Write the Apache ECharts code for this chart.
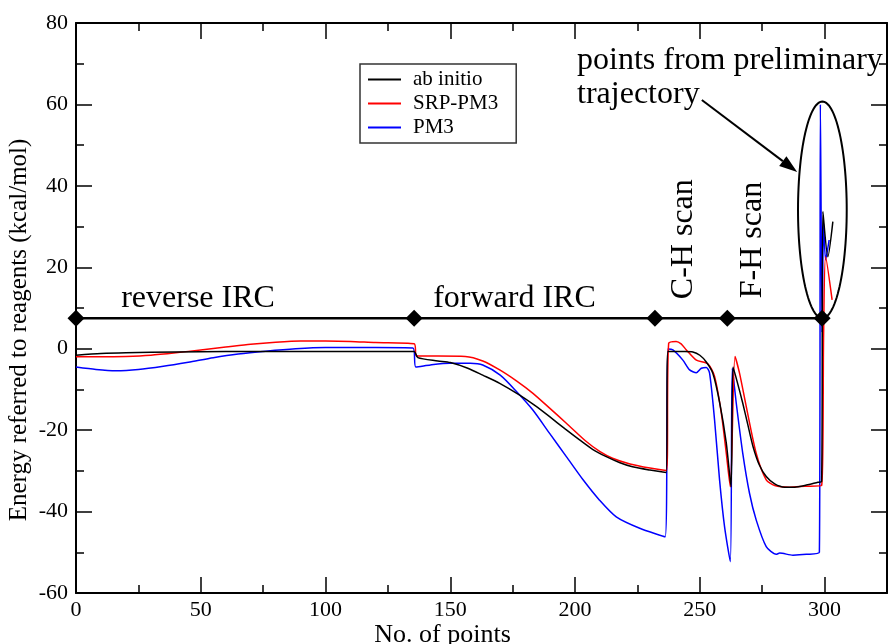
<!DOCTYPE html>
<html><head><meta charset="utf-8">
<script src="https://cdn.jsdelivr.net/npm/echarts@6/dist/echarts.min.js"></script>
<style>html,body{margin:0;padding:0;background:#fff}#c{width:888px;height:644px}</style>
</head><body><div id="c"></div>
<script>
const FONT = '"Liberation Serif", "DejaVu Serif", serif';
const seriesNames = ['ab initio', 'SRP-PM3', 'PM3'];
const seriesColors = ['#000000', '#ff0000', '#0000ff'];

const abInitio = [[0,-1.6],[10,-1.2],[20,-1.0],[40,-0.8],[60,-0.7],[80,-0.7],[100,-0.7],[120,-0.7],[135.5,-0.7],[137,-2.2],[145,-3.0],[150,-3.4],[157,-4.8],[163,-6.5],[169.8,-8.5],[177.8,-11.4],[184,-14.0],[189.8,-16.7],[196,-19.7],[201.8,-22.4],[207,-24.7],[212.5,-26.5],[218,-28.0],[223,-29.0],[230,-29.8],[236.5,-30.4],[237.2,-0.7],[244,-0.7],[247.2,-0.8],[250,-1.6],[252.5,-3.2],[255.2,-6.0],[258,-13.4],[260.6,-23.2],[262.5,-33.9],[263.3,-4.5],[265,-8.2],[267.2,-13.4],[269.2,-18.6],[271.3,-24.0],[273.8,-28.5],[276.6,-31.4],[280,-33.2],[284,-34.0],[288,-34.0],[292.7,-33.5],[297.3,-32.8],[298.8,-32.6],[299.3,33.7],[301.3,22.6],[303.3,31.2]];

const srpPm3 = [[0,-2.0],[10,-2.0],[20,-1.9],[30,-1.6],[40,-1.0],[50,-0.3],[60,0.4],[70,1.1],[80,1.6],[90,1.9],[100,1.9],[110,1.8],[120,1.5],[135.5,1.2],[136.5,-1.8],[145,-1.8],[156,-1.9],[163,-3.0],[169.8,-5.2],[176.5,-7.9],[183,-10.9],[189.8,-14.6],[196.5,-18.3],[204.5,-22.8],[210,-25.3],[215,-26.9],[222,-28.3],[230,-29.3],[236.6,-29.9],[237.5,1.3],[240.5,1.8],[242.5,1.2],[244.6,-0.3],[248.6,-2.8],[253.2,-3.7],[255.9,-6.8],[258.6,-15.8],[260.6,-25.7],[262.2,-33.9],[264.1,-1.9],[265.9,-6.0],[268.6,-14.2],[272.6,-25.7],[276.6,-32.2],[280,-33.6],[286,-34.0],[292,-33.8],[298.8,-33.6],[299.6,3.8],[300.4,22.6],[303,12.0]];

const pm3 = [[0,-4.5],[8,-5.1],[16,-5.4],[25,-5.1],[35,-4.3],[45,-3.3],[55,-2.2],[65,-1.3],[76,-0.6],[88,0.0],[100,0.3],[120,0.3],[135,0.2],[136.2,-4.5],[142,-4.0],[149.8,-3.6],[158,-3.6],[163,-4.0],[170,-6.5],[176.5,-10.5],[183,-15.0],[189.8,-20.8],[196.5,-26.5],[203.2,-32.2],[209.8,-37.2],[216.5,-41.3],[225.9,-44.1],[236.1,-46.2],[237.2,-0.1],[239.2,-0.3],[243.2,-2.8],[245.9,-5.2],[248.6,-5.9],[250.6,-4.8],[252.6,-4.6],[253.9,-6.0],[255.9,-17.5],[257.9,-32.2],[259.9,-43.7],[262.2,-52.3],[263,-4.8],[264.6,-13.4],[267.2,-25.7],[269.9,-35.5],[272.6,-42.1],[276.6,-48.6],[280.6,-50.5],[282,-50.2],[287.3,-50.7],[292.7,-50.5],[297.9,-50.0],[298.3,60.0],[299,4.0],[299.6,30.8],[300.4,21.8],[301.8,26.7]];

const segmentBoundsX = [0, 135.5, 232, 261, 299];
const segmentLineY = 7.5;

const annotationTexts = ['reverse IRC', 'forward IRC', 'C-H scan', 'F-H scan', 'points from preliminary', 'trajectory'];
const xAxisName = 'No. of points';
const yAxisName = 'Energy referred to reagents (kcal/mol)';

// annotation placement (data coordinates)
const textPlace = [
  {x: 48.9, y: 12.2, rot: 0, align: 'center'},
  {x: 175.7, y: 12.2, rot: 0, align: 'center'},
  {x: 243.3, y: 26.9, rot: 1, align: 'center'},
  {x: 271.3, y: 26.7, rot: 1, align: 'center'},
  {x: 200.8, y: 70.8, rot: 0, align: 'left'},
  {x: 200.8, y: 62.4, rot: 0, align: 'left'}
];
const ellipse = {cx: 299.1, cy: 34.1, rx: 9.76, ry: 26.6};
const arrow = {from: [250.8, 61.1], to: [289.0, 43.4]};

function renderAnnot(params, api) {
  const children = [];
  const c = api.coord([ellipse.cx, ellipse.cy]);
  const rx = api.size([ellipse.rx, 0])[0];
  const ry = api.size([0, ellipse.ry])[1];
  const pts = [];
  for (let i = 0; i < 120; i++) {
    const t = i / 120 * 2 * Math.PI;
    pts.push([c[0] + rx * Math.cos(t), c[1] + ry * Math.sin(t)]);
  }
  children.push({type: 'polygon', shape: {points: pts}, style: {fill: 'none', stroke: '#000', lineWidth: 2}});
  const a0 = api.coord(arrow.from), a1 = api.coord(arrow.to);
  const dx = a1[0] - a0[0], dy = a1[1] - a0[1], L = Math.hypot(dx, dy), ux = dx / L, uy = dy / L;
  const hl = 18, hw = 6;
  const base = [a1[0] - ux * hl, a1[1] - uy * hl];
  children.push({type: 'line', shape: {x1: a0[0], y1: a0[1], x2: base[0], y2: base[1]}, style: {stroke: '#000', lineWidth: 2}});
  children.push({type: 'polygon', shape: {points: [a1, [base[0] - uy * hw, base[1] + ux * hw], [base[0] + uy * hw, base[1] - ux * hw]]}, style: {fill: '#000'}});
  annotationTexts.forEach((txt, i) => {
    const pl = textPlace[i];
    const p = api.coord([pl.x, pl.y]);
    children.push({type: 'text', x: p[0], y: p[1], rotation: pl.rot ? Math.PI / 2 : 0,
      style: {text: txt, fill: '#000', fontSize: 32, fontFamily: FONT, align: pl.align, verticalAlign: 'middle'}});
  });
  return {type: 'group', children};
}

function axisStyle() {
  return {
    axisLine: {show: true, onZero: false, lineStyle: {color: '#000', width: 2}},
    axisTick: {show: true, inside: true, length: 16, lineStyle: {color: '#000', width: 1.5}},
    minorTick: {show: true, splitNumber: 2, length: 8, lineStyle: {color: '#000', width: 1.5}},
    splitLine: {show: false}
  };
}

const chart = echarts.init(document.getElementById('c'));
const lineSeries = [abInitio, srpPm3, pm3].map((d, i) => ({
  name: seriesNames[i], type: 'line', data: d, showSymbol: false, symbol: 'none',
  smooth: 0.25, color: seriesColors[i], lineStyle: {color: seriesColors[i], width: 1.5}, z: 5 - i
}));

chart.setOption({
  animation: false,
  backgroundColor: '#fff',
  grid: {left: 76, right: 1, top: 23, bottom: 51, containLabel: false, outerBoundsMode: 'none'},
  legend: {
    data: seriesNames, orient: 'vertical', left: 360, top: 64, icon: 'rect',
    itemWidth: 33, itemHeight: 2, itemGap: 3, padding: [5, 18, 5, 8],
    borderColor: '#333', borderWidth: 1.5, backgroundColor: '#fff',
    textStyle: {fontSize: 21, fontFamily: FONT, color: '#000', padding: [0, 0, 0, 7], lineHeight: 21}
  },
  xAxis: [
    Object.assign({type: 'value', min: 0, max: 325, interval: 50, position: 'bottom',
      axisLabel: {color: '#000', fontSize: 22, fontFamily: FONT, margin: 6, showMaxLabel: false},
      name: xAxisName, nameLocation: 'middle', nameGap: 29, nameMoveOverlap: false,
      nameTextStyle: {color: '#000', fontSize: 26, fontFamily: FONT, padding: [0, 78, 0, 0]}}, axisStyle()),
    Object.assign({type: 'value', min: 0, max: 325, interval: 50, position: 'top',
      axisLabel: {show: false}}, axisStyle())
  ],
  yAxis: [
    Object.assign({type: 'value', min: -60, max: 80, interval: 20, position: 'left',
      axisLabel: {color: '#000', fontSize: 22, fontFamily: FONT, margin: 8},
      name: yAxisName, nameLocation: 'middle', nameGap: 44, nameMoveOverlap: false,
      nameTextStyle: {color: '#000', fontSize: 25, fontFamily: FONT, padding: [0, 44, 0, 0]}}, axisStyle()),
    Object.assign({type: 'value', min: -60, max: 80, interval: 20, position: 'right',
      axisLabel: {show: false}}, axisStyle())
  ],
  series: lineSeries.concat([
    {name: 'segments', type: 'line', data: segmentBoundsX.map(x => [x, segmentLineY]),
     symbol: 'diamond', symbolSize: 17, showSymbol: true, color: '#000',
     lineStyle: {color: '#000', width: 2.5}, itemStyle: {color: '#000'}, z: 6, silent: true},
    {name: 'annotations', type: 'custom', data: [[0, 0]], renderItem: renderAnnot, z: 7, silent: true}
  ])
});
</script>
</body></html>
